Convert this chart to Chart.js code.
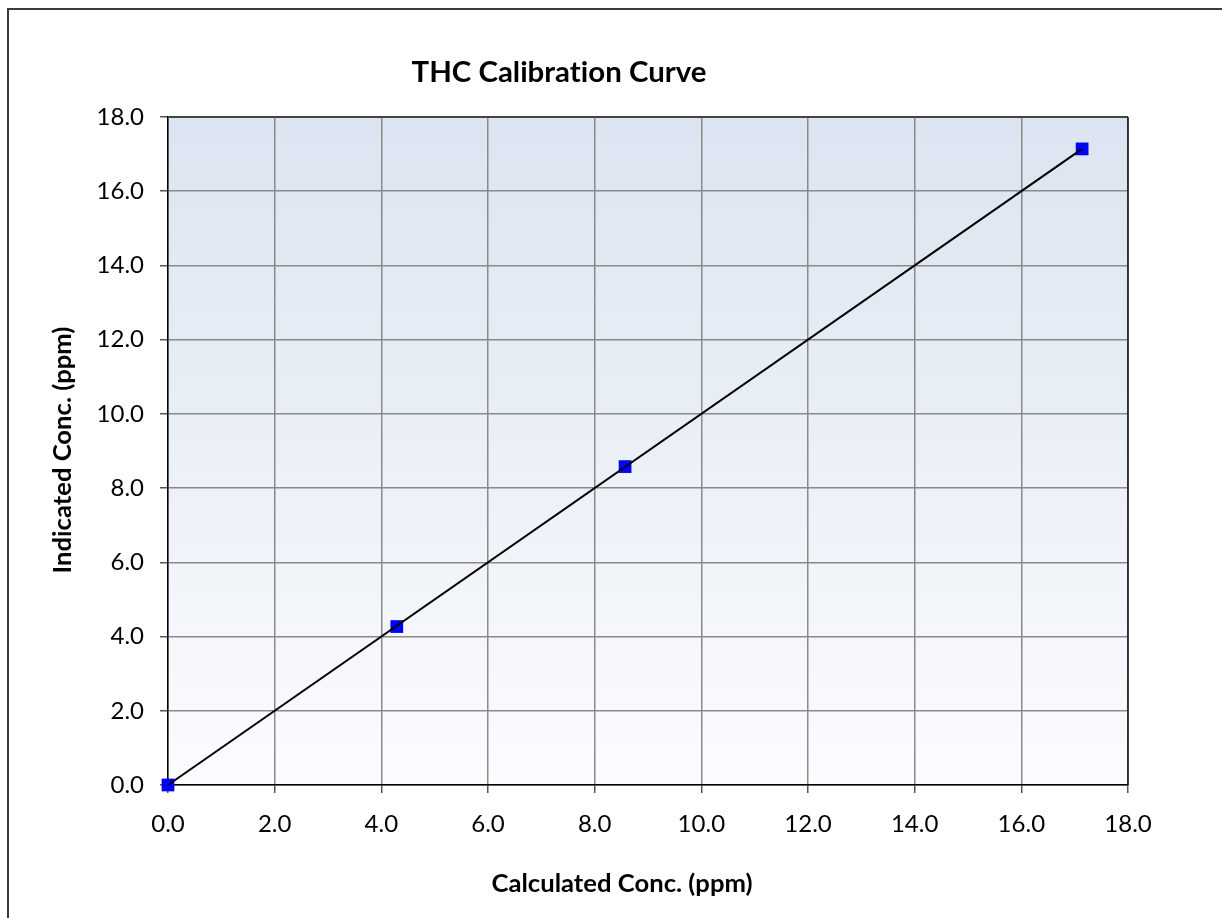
<!DOCTYPE html>
<html>
<head>
<meta charset="utf-8">
<script src="https://cdn.jsdelivr.net/npm/chart.js@4.4.1/dist/chart.umd.min.js"></script>
<style>
html,body{margin:0;padding:0;background:#fff;overflow:hidden}
#frame{position:absolute;left:7px;top:8px;width:1300px;height:1000px;border-left:2px solid #3a3a3a;border-top:2px solid #3a3a3a}
#wrap{position:absolute;left:0;top:0;width:1222px;height:918px}
</style>
</head>
<body>
<div id="frame"></div>
<div id="wrap"><canvas id="c" width="1222" height="918"></canvas></div>
<script>
// ===== THC calibration data =====
var chartTitle='THC Calibration Curve';
var xTitle='Calculated Conc. (ppm)';
var yTitle='Indicated Conc. (ppm)';
var calcConc=[0.0,4.29,8.57,17.14];
var indConc=[0.0,4.27,8.58,17.14];
var trendX=[0.0,17.14];
var trendY=[0.0,17.14];
var axisMin=0, axisMax=18, axisStep=2;

var FONT='Lato, "Open Sans", sans-serif';

function toPts(xs,ys){return xs.map(function(x,i){return {x:x,y:ys[i]};});}

// fit font size to a target text width
function fitFont(ctx,text,weight,target){
 ctx.font=weight+' 100px '+FONT;
 var w=ctx.measureText(text).width;
 return 100*target/w;
}

var bgPlugin={
 id:'bg',
 beforeDraw:function(ch){
  var a=ch.chartArea, ctx=ch.ctx;
  var g=ctx.createLinearGradient(0,a.top,0,a.bottom);
  g.addColorStop(0,'#dbe4f0');
  g.addColorStop(1,'#fbfcfe');
  ctx.save();ctx.fillStyle=g;ctx.fillRect(a.left,a.top,a.right-a.left,a.bottom-a.top);ctx.restore();
 },
 beforeDatasetsDraw:function(ch){
  var a=ch.chartArea, ctx=ch.ctx;
  ctx.save();
  ctx.strokeStyle='#444';ctx.lineWidth=2;
  ctx.beginPath();ctx.moveTo(a.left,a.top);ctx.lineTo(a.right,a.top);ctx.stroke();
  ctx.strokeStyle='#111';ctx.lineWidth=1.5;
  ctx.beginPath();ctx.moveTo(a.right,a.top);ctx.lineTo(a.right,a.bottom);ctx.stroke();
  ctx.restore();
 },
 afterDraw:function(ch){
  var ctx=ch.ctx;
  ctx.save();
  if('letterSpacing' in ctx) ctx.letterSpacing='0.01px'; // no ti ligature
  ctx.fillStyle='#000';ctx.textAlign='center';ctx.textBaseline='alphabetic';
  var s=fitFont(ctx,chartTitle,'bold',295);
  ctx.font='bold '+s+'px '+FONT;ctx.fillText(chartTitle,559,82);
  s=fitFont(ctx,xTitle,'bold',261);
  ctx.font='bold '+s+'px '+FONT;ctx.fillText(xTitle,622,892);
  ctx.translate(71,450);ctx.rotate(-Math.PI/2);
  ctx.font='bold '+s+'px '+FONT;ctx.fillText(yTitle,0,0);
  ctx.restore();
 }
};

var tickFmt=function(v){return Number(v).toFixed(1);};

new Chart(document.getElementById('c'),{
 type:'scatter',
 data:{datasets:[
  {label:'Trend',data:toPts(trendX,trendY),showLine:true,borderColor:'#000',borderWidth:2,pointRadius:0,fill:false,order:0,clip:false},
  {label:'Indicated',data:toPts(calcConc,indConc),pointStyle:'rect',pointRadius:9,pointHoverRadius:9,backgroundColor:'#0000ff',borderColor:'#0000ff',borderWidth:0,showLine:false,order:1,clip:false}
 ]},
 options:{
  responsive:false,animation:false,devicePixelRatio:1,
  layout:{padding:{left:0,top:117,right:94,bottom:0}},
  plugins:{legend:{display:false},tooltip:{enabled:false},title:{display:false}},
  scales:{
   x:{type:'linear',min:axisMin,max:axisMax,
    ticks:{stepSize:axisStep,callback:tickFmt,color:'#000',font:{family:FONT,size:24},padding:17,maxRotation:0},
    grid:{color:'#8a8a8a',lineWidth:1.5,tickLength:8,tickColor:'#555'},
    border:{color:'#000',width:1.5},
    afterFit:function(sc){sc.height=133;}
   },
   y:{type:'linear',min:axisMin,max:axisMax,
    ticks:{stepSize:axisStep,callback:tickFmt,color:'#000',font:{family:FONT,size:24},padding:16},
    grid:{color:'#8a8a8a',lineWidth:1.5,tickLength:8,tickColor:'#555'},
    border:{color:'#000',width:1.5},
    afterFit:function(sc){sc.width=168;}
   }
  }
 },
 plugins:[bgPlugin]
});
</script>
</body>
</html>
